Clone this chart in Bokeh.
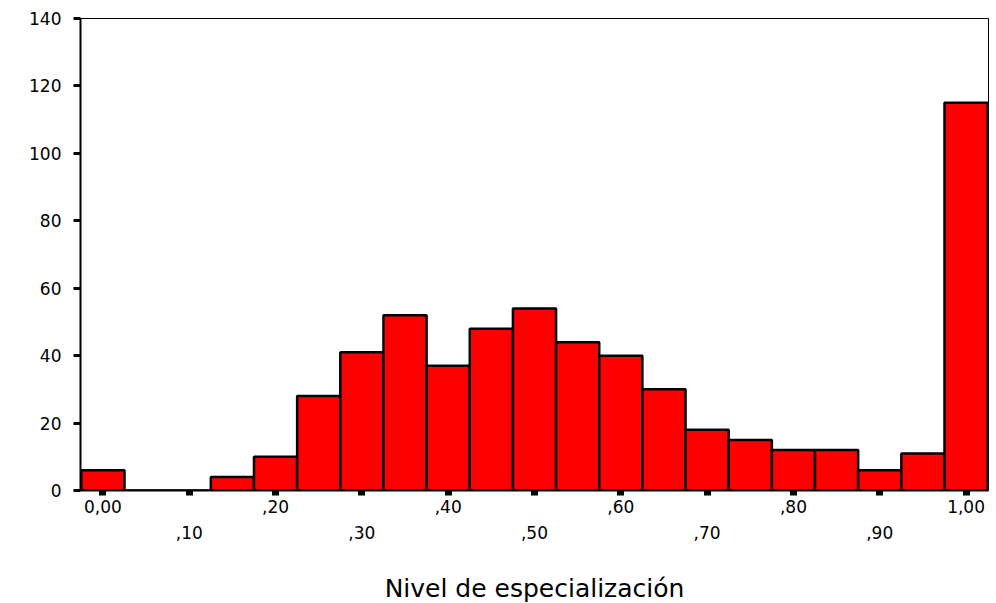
from bokeh.plotting import figure
from bokeh.models import LinearAxis, FixedTicker, Range1d, ColumnDataSource
from bokeh.embed import file_html
from bokeh.resources import INLINE

# Histogram data: bin centers (width 0.05) and counts
bin_centers = [0.00, 0.05, 0.10, 0.15, 0.20, 0.25, 0.30, 0.35, 0.40, 0.45, 0.50,
               0.55, 0.60, 0.65, 0.70, 0.75, 0.80, 0.85, 0.90, 0.95, 1.00]
counts = [6, 0, 0, 4, 10, 28, 41, 52, 37, 48, 54,
          44, 40, 30, 18, 15, 12, 12, 6, 11, 115]
bin_width = 0.05

x_ticks_row1 = [0.0, 0.2, 0.4, 0.6, 0.8, 1.0]
x_labels_row1 = ["0,00", ",20", ",40", ",60", ",80", "1,00"]
x_ticks_row2 = [0.1, 0.3, 0.5, 0.7, 0.9]
x_labels_row2 = [",10", ",30", ",50", ",70", ",90"]
x_ticks_all = [0.0, 0.1, 0.2, 0.3, 0.4, 0.5, 0.6, 0.7, 0.8, 0.9, 1.0]
y_ticks = [0, 20, 40, 60, 80, 100, 120, 140]
x_title = "Nivel de especialización"

FONT = "DejaVu Sans"

src = ColumnDataSource(dict(
    left=[c - bin_width / 2 for c in bin_centers],
    right=[c + bin_width / 2 for c in bin_centers],
    top=counts,
    bottom=[0] * len(counts),
))

p = figure(frame_width=908, frame_height=472,
           x_range=Range1d(-0.026, 1.026), y_range=Range1d(0, 140),
           x_axis_type=None,
           output_backend="svg", toolbar_location=None,
           min_border_left=80, min_border_top=18, min_border_right=8, min_border_bottom=0)

p.background_fill_color = "white"
p.border_fill_color = "white"
p.outline_line_color = "black"
p.outline_line_width = 1
p.grid.visible = False

p.quad(left="left", right="right", top="top", bottom="bottom", source=src,
       fill_color="#ff0000", line_color="black", line_width=2.5)

# y axis
ya = p.yaxis[0]
ya.ticker = FixedTicker(ticks=y_ticks)
ya.axis_line_width = 2
ya.axis_line_color = "black"
ya.major_tick_out = 7
ya.major_tick_in = 0
ya.major_tick_line_width = 3
ya.major_tick_line_cap = "butt"
ya.minor_tick_line_color = None
ya.major_label_standoff = 12
ya.major_label_text_font = FONT
ya.major_label_text_font_size = "17px"
ya.major_label_text_color = "black"

# x axis row 1 (with ticks and axis line)
ax1 = LinearAxis(ticker=FixedTicker(ticks=x_ticks_all))
ax1.major_label_overrides = {t: "" for t in x_ticks_all}
ax1.major_label_overrides.update({t: l for t, l in zip(x_ticks_row1, x_labels_row1)})
ax1.axis_line_width = 2
ax1.axis_line_color = "black"
ax1.major_tick_out = 5
ax1.major_tick_in = 0
ax1.major_tick_line_width = 7
ax1.major_tick_line_cap = "butt"
ax1.minor_tick_line_color = None
ax1.major_label_standoff = 4
ax1.major_label_text_font = FONT
ax1.major_label_text_font_size = "17px"
ax1.major_label_text_color = "black"
p.add_layout(ax1, "below")

# x axis row 2 (staggered labels + title)
ax2 = LinearAxis(ticker=FixedTicker(ticks=x_ticks_row2))
ax2.major_label_overrides = {t: l for t, l in zip(x_ticks_row2, x_labels_row2)}
ax2.axis_line_color = None
ax2.major_tick_line_color = None
ax2.minor_tick_line_color = None
ax2.major_tick_out = 0
ax2.major_tick_in = 0
ax2.major_label_standoff = 10
ax2.major_label_text_font = FONT
ax2.major_label_text_font_size = "17px"
ax2.major_label_text_color = "black"
ax2.axis_label = x_title
ax2.axis_label_standoff = 32
ax2.axis_label_text_font = FONT
ax2.axis_label_text_font_size = "25px"
ax2.axis_label_text_font_style = "normal"
ax2.axis_label_text_color = "black"
p.add_layout(ax2, "below")

open("out.html", "w").write(file_html(p, INLINE))
